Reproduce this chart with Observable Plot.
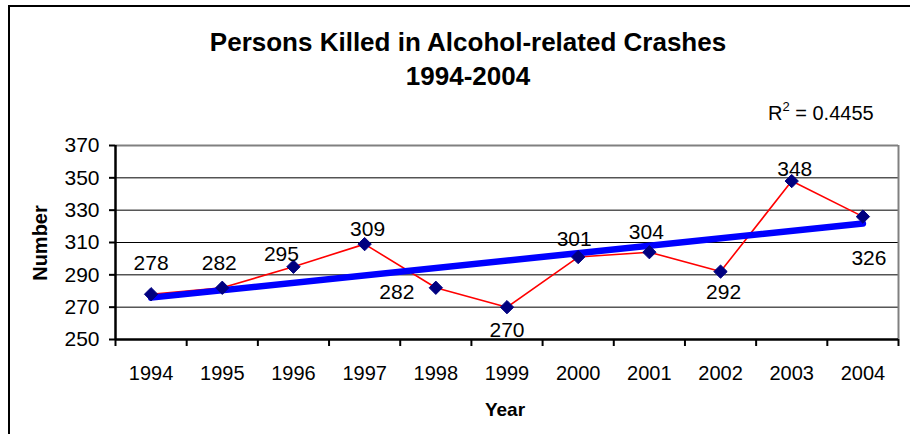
<!DOCTYPE html>
<html>
<head>
<meta charset="utf-8">
<script src="https://cdn.jsdelivr.net/npm/d3@7"></script>
<script src="https://cdn.jsdelivr.net/npm/@observablehq/plot@0.6"></script>
<style>
  html, body { margin: 0; padding: 0; background: #fff; overflow: hidden; }
  #wrap { position: relative; width: 910px; height: 434px; overflow: hidden; font-family: "Liberation Sans", Arial, sans-serif; color: #000; }
  #frame { position: absolute; left: 8px; top: 5px; width: 940px; height: 470px; border: 2px solid #000; box-sizing: border-box; pointer-events: none; }
  #title { position: absolute; left: 0; top: 25px; width: 936px; text-align: center; font-weight: bold; font-size: 26px; line-height: 34px; }
  #r2 { position: absolute; left: 768px; top: 102px; font-size: 20px; white-space: nowrap; }
  #r2 sup { font-size: 13px; vertical-align: 0; position: relative; top: -9px; }
  #ylab { position: absolute; left: 40px; top: 243px; transform: translate(-50%, -50%) rotate(-90deg); font-weight: bold; font-size: 20px; white-space: nowrap; }
  #xlab { position: absolute; left: 505px; top: 410px; transform: translate(-50%, -50%); font-weight: bold; font-size: 19px; white-space: nowrap; }
  #chart { position: absolute; left: 0; top: 0; }
</style>
</head>
<body>
<div id="wrap">
  <div id="chart"></div>
  <div id="frame"></div>
  <div id="title">Persons Killed in Alcohol-related Crashes<br>1994-2004</div>
  <div id="r2">R<sup>2</sup> = 0.4455</div>
  <div id="ylab">Number</div>
  <div id="xlab">Year</div>
</div>
<script>
// ---- data ----
const years = [1994, 1995, 1996, 1997, 1998, 1999, 2000, 2001, 2002, 2003, 2004];
const killed = [278, 282, 295, 309, 282, 270, 301, 304, 292, 348, 326];
const yTicks = [250, 270, 290, 310, 330, 350, 370];

// ---- label placement (layout, not data) ----
const labelDx = [0, -3, -12, 3, -39, 0, -4, -3, 3, 3, 6];
const labelDy = [-31, -25, -12, -15, 4, 23, -18, -20, 21, -12, 42];

const rows = years.map((year, i) => ({year, killed: killed[i], i}));
const boundaries = d3.range(years[0] - 0.5, years[years.length - 1] + 1, 1);
const xDomain = [years[0] - 0.5, years[years.length - 1] + 0.5];

const labelMarks = rows.map(r => Plot.text([r], {
  x: "year", y: "killed", text: d => String(d.killed),
  dx: labelDx[r.i], dy: labelDy[r.i],
  fontSize: 21, fill: "#000"
}));

const chart = Plot.plot({
  width: 910,
  height: 434,
  marginLeft: 115,
  marginRight: 12,
  marginTop: 145,
  marginBottom: 95,
  style: { fontFamily: "'Liberation Sans', Arial, sans-serif", background: "transparent", color: "#000" },
  x: { domain: xDomain },
  y: { domain: [250, 370] },
  marks: [
    Plot.gridY(yTicks.slice(1, -1), { stroke: "#000", strokeOpacity: 1, strokeWidth: 1 }),
    Plot.ruleY([370], { stroke: "#808080", strokeWidth: 2 }),
    Plot.ruleX([xDomain[1]], { stroke: "#808080", strokeWidth: 2 }),
    Plot.axisY(yTicks, { tickSize: 6, tickPadding: 10, fontSize: 21, label: null, strokeWidth: 2 }),
    Plot.axisX(boundaries, { tickSize: 7, tickFormat: () => "", label: null, strokeWidth: 2 }),
    Plot.axisX(years, { tickSize: 0, tickPadding: 26, fontSize: 20, tickFormat: d => String(d), label: null }),
    Plot.ruleX([xDomain[0]], { stroke: "#000", strokeWidth: 2.5 }),
    Plot.ruleY([250], { stroke: "#000", strokeWidth: 2.5 }),
    Plot.line(rows, { x: "year", y: "killed", stroke: "#ff0000", strokeWidth: 1.6 }),
    Plot.linearRegressionY(rows, { x: "year", y: "killed", stroke: "#0000ff", strokeWidth: 6.5, ci: 0 }),
    Plot.dot(rows, { x: "year", y: "killed", symbol: "diamond2", r: 6, fill: "#000080", stroke: "#000080", strokeWidth: 1 }),
    ...labelMarks
  ]
});
document.getElementById("chart").appendChild(chart);
</script>
</body>
</html>
